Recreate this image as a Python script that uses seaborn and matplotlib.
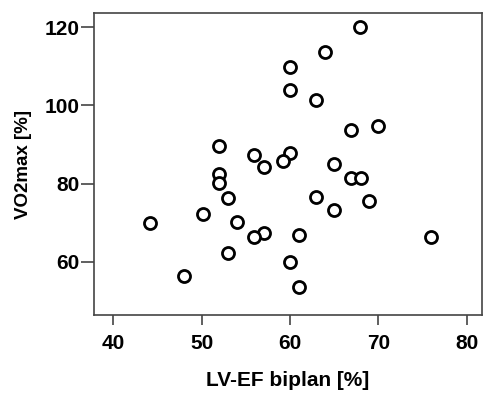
import matplotlib
matplotlib.use("Agg")
import matplotlib.pyplot as plt
import seaborn as sns
import pandas as pd

lvef = [67.9, 64.0, 60.0, 60.0, 62.9, 70.0, 66.9, 52.0, 55.9, 60.0, 59.2, 57.0,
        65.0, 52.0, 52.0, 66.9, 68.0, 53.0, 62.9, 69.0, 65.0, 50.1, 44.1, 54.0,
        57.0, 55.9, 61.0, 76.0, 53.0, 60.0, 48.0, 61.0]
vo2max = [120.0, 113.7, 109.8, 103.9, 101.4, 94.7, 93.7, 89.6, 87.4, 87.7, 85.7, 84.2,
          85.0, 82.4, 80.1, 81.3, 81.3, 76.2, 76.5, 75.5, 73.3, 72.2, 69.8, 70.1,
          67.3, 66.3, 66.8, 66.3, 62.3, 60.0, 56.2, 53.4]
x_ticks = [40, 50, 60, 70, 80]
y_ticks = [60, 80, 100, 120]

df = pd.DataFrame({"LV-EF biplan [%]": lvef, "VO2max [%]": vo2max})

sns.set_style("white")
plt.rcParams['font.family'] = ['Liberation Sans', 'DejaVu Sans']
plt.rcParams['text.color'] = 'black'
plt.rcParams['xtick.color'] = '#444444'
plt.rcParams['ytick.color'] = '#444444'
plt.rcParams['xtick.labelcolor'] = 'black'
plt.rcParams['ytick.labelcolor'] = 'black'
plt.rcParams['axes.labelcolor'] = 'black'

fig = plt.figure(figsize=(4.83, 3.94), dpi=100)
ax = fig.add_axes([0.1946, 0.2005, 0.8034, 0.7665])
sns.scatterplot(data=df, x="LV-EF biplan [%]", y="VO2max [%]", ax=ax,
                marker="o", s=75, facecolor="white", edgecolor="black",
                linewidth=2.0, zorder=3)
ax.set_xlim(37.8, 81.75)
ax.set_ylim(46.3, 123.7)
ax.set_xticks(x_ticks)
ax.set_yticks(y_ticks)
for s in ax.spines.values():
    s.set_color("#444444")
    s.set_linewidth(1.2)
ax.tick_params(axis="x", which="major", direction="out", length=7.5, width=1.2,
               labelsize=15, pad=6, bottom=True)
ax.tick_params(axis="y", which="major", direction="out", length=9.5, width=1.2,
               labelsize=15, pad=1, left=True)
for lab in ax.get_xticklabels() + ax.get_yticklabels():
    lab.set_fontweight("bold")
ax.set_xlabel("LV-EF biplan [%]", fontsize=15, fontweight="bold", labelpad=13)
ax.set_ylabel("VO2max [%]", fontsize=13.5, fontweight="bold", labelpad=9)
fig.savefig("out.png", dpi=100)
